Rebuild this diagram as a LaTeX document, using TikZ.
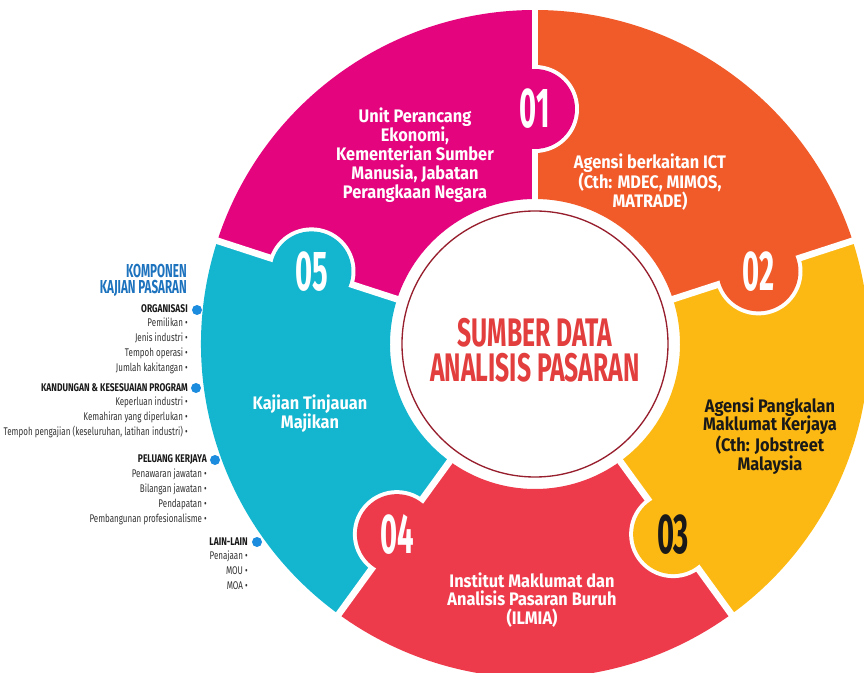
\documentclass[tikz,border=0pt]{standalone}
\usepackage{fontspec}
\setmainfont{Fira Sans}
\newfontfamily\titlefont[FakeStretch=0.62]{Fira Sans}
\newfontfamily\numfont[FakeStretch=0.52]{Fira Sans}
\newfontfamily\bodyfont[FakeStretch=0.9]{Fira Sans}
\newfontfamily\listfont[FakeStretch=0.72]{Fira Sans}
\newfontfamily\listheadfont[FakeStretch=0.76]{Fira Sans}
\usetikzlibrary{positioning}
\definecolor{pinkseg}{RGB}{228,4,126}
\definecolor{orangeseg}{RGB}{241,90,41}
\definecolor{yellowseg}{RGB}{253,185,19}
\definecolor{redseg}{RGB}{238,59,76}
\definecolor{tealseg}{RGB}{19,181,207}
\definecolor{titlered}{RGB}{226,62,62}
\definecolor{ringred}{RGB}{150,30,45}
\definecolor{headblue}{RGB}{30,115,190}
\definecolor{dotblue}{RGB}{28,140,222}

\begin{document}
\begin{tikzpicture}[x=0.03cm,y=0.03cm,
    seg text/.style={align=center,inner sep=0pt,text=white,font=\bodyfont\bfseries\fontsize{15.5}{16.1}\selectfont},
    num/.style={inner sep=0pt,text=white,font=\numfont\bfseries\fontsize{48}{48}\selectfont},
    title/.style={inner sep=0pt,text=titlered,font=\titlefont\bfseries\fontsize{34}{34}\selectfont},
    komp/.style={inner sep=0pt,text=headblue,font=\titlefont\bfseries\fontsize{16}{16}\selectfont},
    list head/.style={anchor=east,inner sep=0pt,text=black!90,font=\listheadfont\bfseries\fontsize{9.5}{12.6}\selectfont},
    list item/.style={align=right,inner sep=0pt,text=black!80,font=\listfont\fontsize{9.5}{12.6}\selectfont},
    blue dot/.style={circle,fill=dotblue,inner sep=0pt,minimum size=0.3cm},
    gap/.style={white,line width=0.2cm}]
    \clip (-535,-329) rectangle (329,344);

    % ring segments
    \fill[pinkseg] (90:145) -- (90:334) arc[start angle=90,end angle=162,radius=334] -- (162:145) arc[start angle=162,end angle=90,radius=145] -- cycle;
    \fill[orangeseg] (18:145) -- (18:334) arc[start angle=18,end angle=90,radius=334] -- (90:145) arc[start angle=90,end angle=18,radius=145] -- cycle;
    \fill[yellowseg] (-54:145) -- (-54:334) arc[start angle=-54,end angle=18,radius=334] -- (18:145) arc[start angle=18,end angle=-54,radius=145] -- cycle;
    \fill[redseg] (234:145) -- (234:334) arc[start angle=234,end angle=306,radius=334] -- (306:145) arc[start angle=306,end angle=234,radius=145] -- cycle;
    \fill[tealseg] (162:145) -- (162:334) arc[start angle=162,end angle=234,radius=334] -- (234:145) arc[start angle=234,end angle=162,radius=145] -- cycle;

    % white gaps between segments
    \draw[gap] (90:140) -- (90:345);
    \draw[gap] (18:140) -- (18:345);
    \draw[gap] (-54:140) -- (-54:345);
    \draw[gap] (234:140) -- (234:345);
    \draw[gap] (162:140) -- (162:345);

    % number tabs
    \begin{scope}
        \clip (0,0) -- (90:400) arc[start angle=90,end angle=18,radius=400] -- cycle;
        \fill[white] (90:235) circle (44);
    \end{scope}
    \fill[pinkseg] (90:235) circle (40);
    \begin{scope}
        \clip (0,0) -- (18:400) arc[start angle=18,end angle=-54,radius=400] -- cycle;
        \fill[white] (18:235) circle (44);
    \end{scope}
    \fill[orangeseg] (18:235) circle (40);
    \begin{scope}
        \clip (0,0) -- (-54:400) arc[start angle=-54,end angle=-126,radius=400] -- cycle;
        \fill[white] (-54:235) circle (44);
    \end{scope}
    \fill[yellowseg] (-54:235) circle (40);
    \begin{scope}
        \clip (0,0) -- (234:400) arc[start angle=234,end angle=162,radius=400] -- cycle;
        \fill[white] (234:235) circle (44);
    \end{scope}
    \fill[redseg] (234:235) circle (40);
    \begin{scope}
        \clip (0,0) -- (162:400) arc[start angle=162,end angle=90,radius=400] -- cycle;
        \fill[white] (162:235) circle (44);
    \end{scope}
    \fill[tealseg] (162:235) circle (40);

    % centre
    \draw[ringred,line width=0.04cm] (0,0) circle (133);
    \node[title] (title1) at (0,11) {SUMBER DATA};
    \node[title] (title2) [below=4.7pt of title1] {ANALISIS PASARAN};

    \node[num] (n1) at (90:235) {01};
    \node[num] (n2) at (18:235) {02};
    \node[num,text=black!90] (n3) at (-54:235) {03};
    \node[num] (n4) at (234:235) {04};
    \node[num] (n5) at (162:235) {05};

    \node[seg text] (unit) at (-120,189) {Unit Perancang\\Ekonomi,\\Kementerian Sumber\\Manusia, Jabatan\\Perangkaan Negara};
    \node[seg text] (ict) at (115,162) {Agensi berkaitan ICT\\(Cth: MDEC, MIMOS,\\MATRADE)};
    \node[seg text,text=black!90] (jobs) at (235,-92) {Agensi Pangkalan\\Maklumat Kerjaya\\(Cth: Jobstreet\\Malaysia};
    \node[seg text] (ilmia) at (-3,-256) {Institut Maklumat dan\\Analisis Pasaran Buruh\\(ILMIA)};
    \node[seg text] (majikan) at (-225,-70) {Kajian Tinjauan\\Majikan};

    % komponen list
    \node[komp,anchor=east] (komponen) at (-348,73) {KOMPONEN};
    \node[komp] (kajian) [below left=1.7pt and 0pt of komponen.south east] {KAJIAN PASARAN};

    \node[list head] (org) at (-347,35) {ORGANISASI};
    \node[blue dot] (d1) at (-338,34) {};
    \node[list item] (orgitems) [below left=4pt and 0pt of org.south east] {Pemilikan •\\Jenis industri •\\Tempoh operasi •\\Jumlah kakitangan •};

    \node[list head] (prog) at (-347,-44) {KANDUNGAN \& KESESUAIAN PROGRAM};
    \node[blue dot] (d2) at (-339,-44) {};
    \node[list item] (progitems) [below left=4pt and 0pt of prog.south east] {Keperluan industri •\\Kemahiran yang diperlukan •\\Tempoh pengajian (keseluruhan, latihan industri) •};

    \node[list head] (kerja) at (-328,-115) {PELUANG KERJAYA};
    \node[blue dot] (d3) at (-320,-116) {};
    \node[list item] (kerjaitems) [below left=4pt and 0pt of kerja.south east] {Penawaran jawatan •\\Bilangan jawatan •\\Pendapatan •\\Pembangunan profesionalisme •};

    \node[list head] (lain) at (-287,-198) {LAIN-LAIN};
    \node[blue dot] (d4) at (-278,-198) {};
    \node[list item] (lainitems) [below left=4pt and 0pt of lain.south east] {Penajaan •\\MOU •\\MOA •};
\end{tikzpicture}
\end{document}
